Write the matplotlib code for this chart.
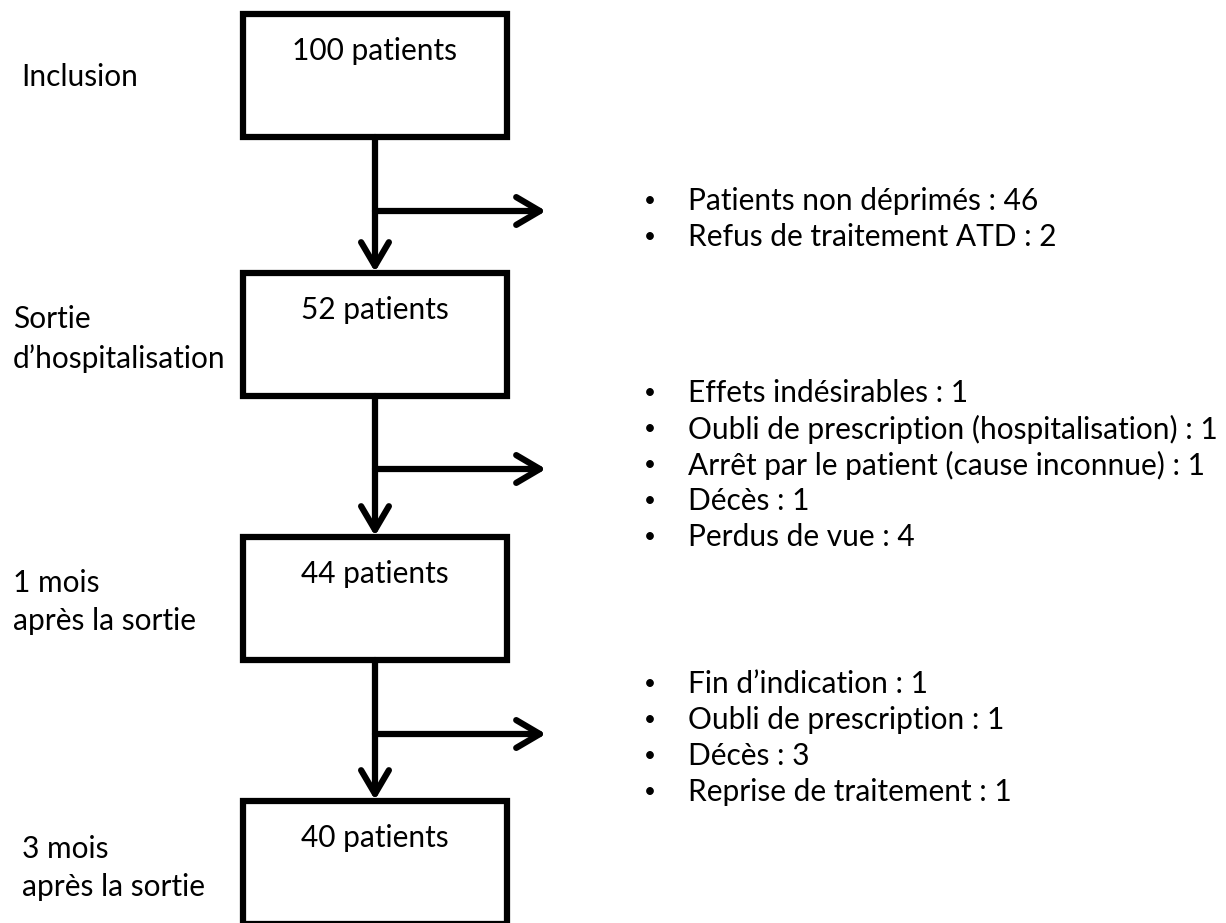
import matplotlib
matplotlib.use('Agg')
import matplotlib.pyplot as plt
from matplotlib.patches import Rectangle, FancyArrowPatch

plt.rcParams['font.family'] = ['Lato', 'DejaVu Sans']

# flowchart content
box_counts = [100, 52, 44, 40]
stage_labels = ['Inclusion', 'Sortie\nd\u2019hospitalisation',
                '1 mois\naprès la sortie', '3 mois\naprès la sortie']
exclusions = [
    ['Patients non déprimés : 46', 'Refus de traitement ATD : 2'],
    ['Effets indésirables : 1', 'Oubli de prescription (hospitalisation) : 1',
     'Arrêt par le patient (cause inconnue) : 1', 'Décès : 1', 'Perdus de vue : 4'],
    ['Fin d\u2019indication : 1', 'Oubli de prescription : 1', 'Décès : 3',
     'Reprise de traitement : 1'],
]

# layout (pixel space)
box_left, box_right = 243, 507
box_top = [14, 273, 537, 801]
box_h = 123
mid_x = (box_left + box_right) / 2
stage_x = [21, 13, 13, 22]
stage_y = [77, 339, 602, 868]
branch_y = [211, 469, 734]
list_top = [201, 393, 684]
line_step = 36

fig = plt.figure(figsize=(12.26, 9.23), dpi=100)
ax = fig.add_axes([0, 0, 1, 1])
ax.set_xlim(0, 1226)
ax.set_ylim(923, 0)
ax.axis('off')

fs = 21.5
lw = 4.5
head = '->,head_length=17,head_width=10'

for i, n in enumerate(box_counts):
    ax.add_patch(Rectangle((box_left, box_top[i]), box_right - box_left, box_h,
                           fill=False, edgecolor='black', linewidth=lw))
    ax.text(mid_x, box_top[i] + 37, f'{n} patients', ha='center', va='center', fontsize=fs)
    ax.text(stage_x[i], stage_y[i], stage_labels[i], ha='left', va='center',
            fontsize=fs, linespacing=1.45)

for i in range(3):
    a = FancyArrowPatch((mid_x, box_top[i] + box_h), (mid_x, box_top[i + 1] - 1),
                        arrowstyle=head, mutation_scale=1,
                        color='black', linewidth=lw, shrinkA=0, shrinkB=0,
                        capstyle='round', joinstyle='round')
    ax.add_patch(a)
    a = FancyArrowPatch((mid_x, branch_y[i]), (546, branch_y[i]),
                        arrowstyle=head, mutation_scale=1,
                        color='black', linewidth=lw, shrinkA=0, shrinkB=0,
                        capstyle='round', joinstyle='round')
    ax.add_patch(a)
    for j, item in enumerate(exclusions[i]):
        y = list_top[i] + j * line_step
        ax.text(650, y, '\u2022', ha='center', va='center', fontsize=15)
        ax.text(688, y, item, ha='left', va='center', fontsize=fs)

fig.savefig('out.png', dpi=100)
